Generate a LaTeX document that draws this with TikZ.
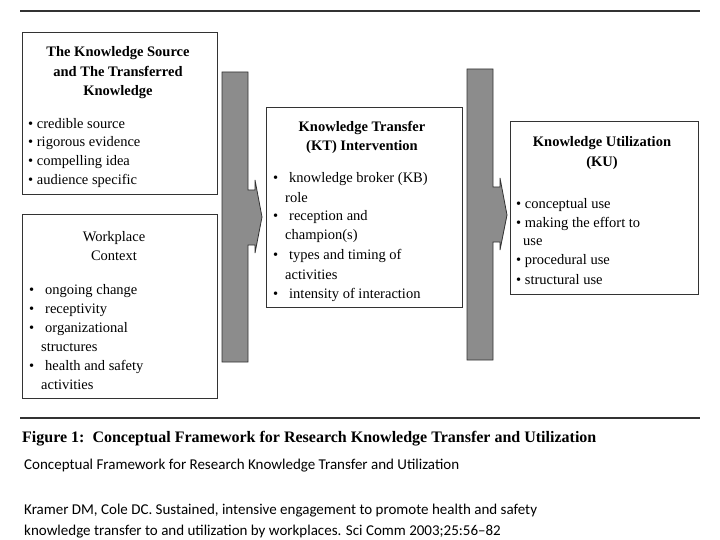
\documentclass[tikz,border=0pt]{standalone}
\usepackage{fontspec}
\setmainfont{Liberation Serif}
\newfontfamily\calfont{Carlito}
\begin{document}
\begin{tikzpicture}[x=1pt,y=-1pt,
  box/.style={draw=black!80,line width=0.8pt},
  arr/.style={draw=black!80,fill=black!45,line width=0.8pt},
  tl/.style={font=\fontsize{14.5}{16}\selectfont\bfseries,anchor=base,inner sep=0},
  tx/.style={font=\fontsize{14.5}{16}\selectfont,anchor=base west,inner sep=0},
  ct/.style={font=\fontsize{14.5}{16}\selectfont,anchor=base,inner sep=0},
  captxt/.style={font=\calfont\fontsize{15}{17}\selectfont,anchor=base west,inner sep=0}]
\useasboundingbox (0,0) rectangle (720,540);
\fill[white] (0,0) rectangle (720,540);
\draw[line width=1.6pt,black!80] (20,11) -- (700,11);
\draw[line width=1.6pt,black!80] (20,418) -- (700,418);
% boxes
\draw[box] (22,32) rectangle (217,194);
\draw[box] (22,214) rectangle (217,398);
\draw[box] (266,107) rectangle (462,307);
\draw[box] (510,121) rectangle (698,294);
% arrows
\draw[arr] (222,72) -- (248,72) -- (248,190) -- (255,190) -- (255,180) -- (262,217) -- (255,253) -- (255,245) -- (248,245) -- (248,362) -- (222,362) -- cycle;
\draw[arr] (467,69) -- (493,69) -- (493,187) -- (500,187) -- (500,178) -- (507,215) -- (500,250) -- (500,242) -- (493,242) -- (493,360) -- (467,360) -- cycle;
% box1
\node[tl] (a1) at (118,57) {The Knowledge Source};
\node[tl] (a2) at (118,77) {and The Transferred};
\node[tl] (a3) at (118,96) {Knowledge};
\node[tx] (a4) at (28,129) {\textbullet\ credible source};
\node[tx] (a5) at (28,147) {\textbullet\ rigorous evidence};
\node[tx] (a6) at (28,166) {\textbullet\ compelling idea};
\node[tx] (a7) at (28,185) {\textbullet\ audience specific};
% box2
\node[ct] (b1) at (114,241) {Workplace};
\node[ct] (b2) at (114,260) {Context};
\foreach \y/\t/\n in {294/ongoing change/b3, 313/receptivity/b4, 332/organizational/b5, 370/health and safety/b6}{
  \node[tx] at (29,\y) {\textbullet};
  \node[tx] (\n) at (45,\y) {\t};}
\node[tx] (b7) at (41,351) {structures};
\node[tx] (b8) at (41,389) {activities};
% box3
\node[tl] (c1) at (362,132) {Knowledge Transfer};
\node[tl] (c2) at (362,151) {(KT) Intervention};
\foreach \y/\t/\n in {183/knowledge broker (KB)/c3, 221/reception and/c4, 259/types and timing of/c5, 298/intensity of interaction/c6}{
  \node[tx] at (273,\y) {\textbullet};
  \node[tx] (\n) at (289,\y) {\t};}
\node[tx] (c7) at (285,203) {role};
\node[tx] (c8) at (285,240) {champion(s)};
\node[tx] (c9) at (285,279) {activities};
% box4
\node[tl] (d1) at (602,147) {Knowledge Utilization};
\node[tl] (d2) at (602,167) {(KU)};
\node[tx] (d3) at (516,208) {\textbullet\ conceptual use};
\node[tx] (d4) at (516,227) {\textbullet\ making the effort to};
\node[tx] (d5) at (523,245) {use};
\node[tx] (d6) at (516,264) {\textbullet\ procedural use};
\node[tx] (d7) at (516,284) {\textbullet\ structural use};
% captions
\node[font=\fontsize{16}{18}\selectfont\bfseries,anchor=base west,inner sep=0] (f) at (22,442) {Figure 1:\ \ Conceptual Framework for Research Knowledge Transfer and Utilization};
\node[captxt] (g) at (24,469) {Conceptual Framework for Research Knowledge Transfer and Utilization};
\node[captxt] (h) at (24,514) {Kramer DM, Cole DC. Sustained, intensive engagement to promote health and safety};
\node[captxt] (i) at (24,535) {knowledge transfer to and utilization by workplaces. Sci Comm 2003;25:56–82};
\end{tikzpicture}
\end{document}
